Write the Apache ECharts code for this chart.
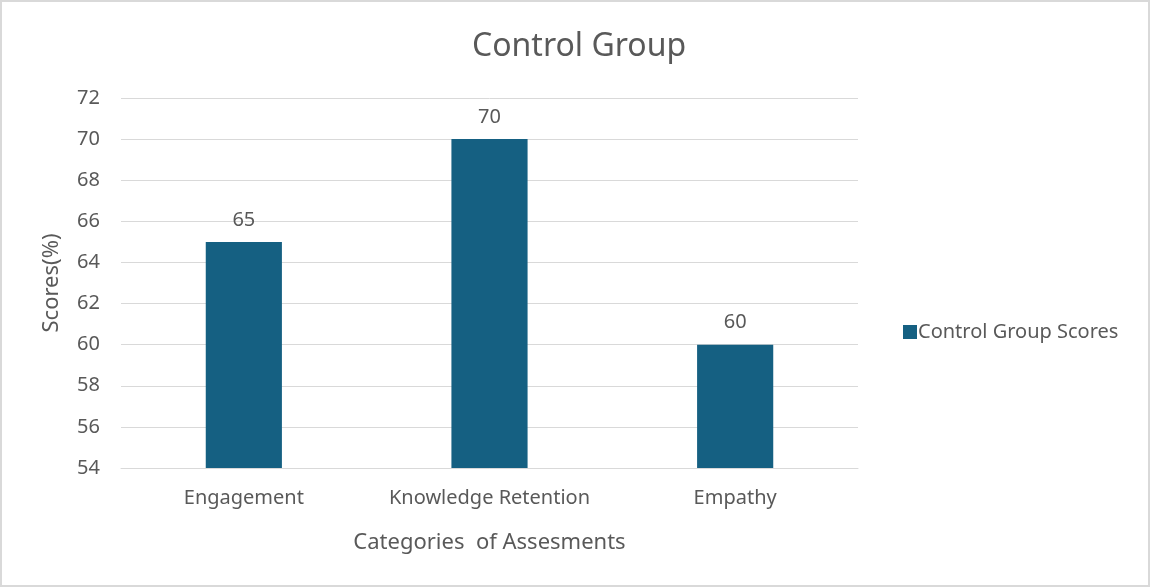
<!DOCTYPE html>
<html>
<head>
<meta charset="utf-8">
<script src="https://cdn.jsdelivr.net/npm/echarts@6/dist/echarts.min.js"></script>
<style>
  html, body { margin: 0; padding: 0; background: #fff; }
  #chart { width: 1150px; height: 587px; box-sizing: border-box; border: 2px solid #d9d9d9; }
</style>
</head>
<body>
<div id="chart"></div>
<script>
const categories = ['Engagement', 'Knowledge Retention', 'Empathy'];
const scores = [65, 70, 60];
const seriesName = 'Control Group Scores';

const chart = echarts.init(document.getElementById('chart'));
const textColor = '#595959';
const font = '"Noto Sans", "DejaVu Sans", sans-serif';

const option = {
  animation: false,
  title: {
    text: 'Control Group',
    left: 465,
    top: 24,
    textStyle: { color: textColor, fontSize: 32, fontWeight: 'normal', fontFamily: font }
  },
  legend: {
    data: [seriesName],
    orient: 'vertical',
    left: 896,
    top: 315,
    icon: 'rect',
    itemWidth: 14,
    itemHeight: 14,
    textStyle: { color: textColor, fontSize: 20, fontFamily: font, padding: [0, 0, 0, -4] }
  },
  grid: { left: 119, right: 290, top: 96, bottom: 117 },
  xAxis: {
    type: 'category',
    data: categories,
    name: 'Categories  of Assesments',
    nameLocation: 'middle',
    nameGap: 64,
    nameTextStyle: { color: textColor, fontSize: 22, fontFamily: font },
    axisLine: { lineStyle: { color: '#d9d9d9' } },
    axisTick: { show: false },
    axisLabel: { color: textColor, fontSize: 20, fontFamily: font, margin: 20, interval: 0, hideOverlap: false }
  },
  yAxis: {
    type: 'value',
    min: 54,
    max: 72,
    interval: 2,
    name: 'Scores(%)',
    nameLocation: 'middle',
    nameGap: 58,
    nameTextStyle: { color: textColor, fontSize: 22, fontFamily: font },
    axisLine: { show: false },
    axisTick: { show: false },
    splitLine: { lineStyle: { color: '#d9d9d9', width: 1 } },
    axisLabel: { color: textColor, fontSize: 20, fontFamily: font, margin: 21 }
  },
  series: [{
    name: seriesName,
    type: 'bar',
    data: scores,
    barWidth: '31%',
    itemStyle: { color: '#156082' },
    label: {
      show: true,
      position: 'top',
      distance: 12,
      color: textColor,
      fontSize: 20,
      fontFamily: font
    }
  }]
};

chart.setOption(option);
</script>
</body>
</html>
